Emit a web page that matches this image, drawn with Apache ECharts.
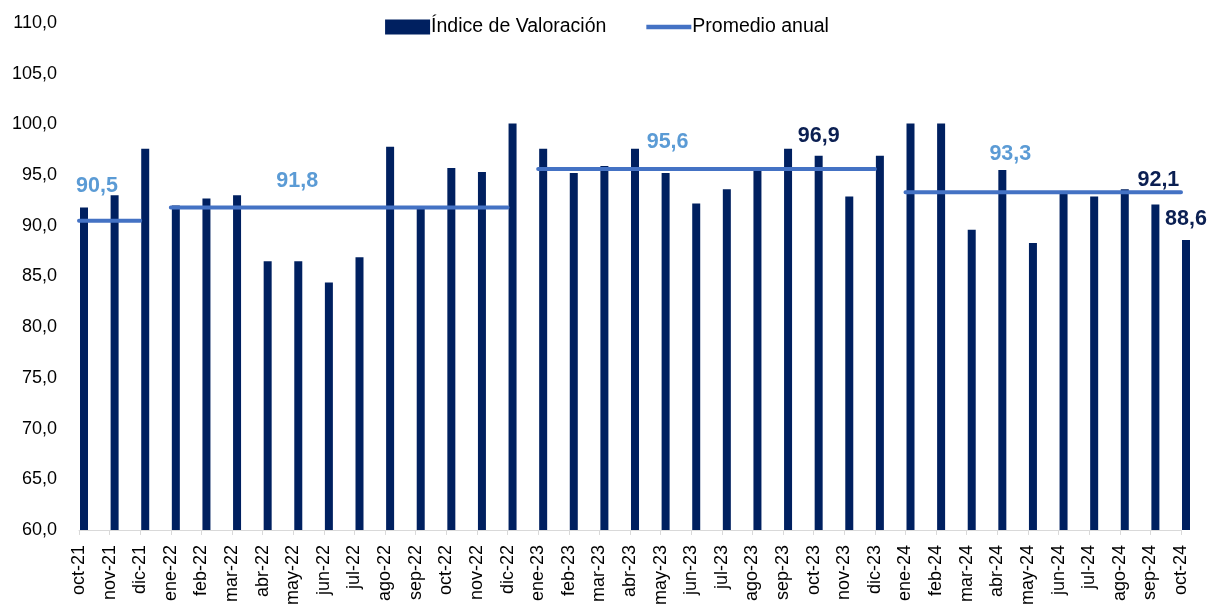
<!DOCTYPE html>
<html>
<head>
<meta charset="utf-8">
<script src="https://cdn.jsdelivr.net/npm/echarts@6/dist/echarts.min.js"></script>
<style>html,body{margin:0;padding:0;background:#fff}#c{width:1214px;height:608px}</style>
</head>
<body>
<div id="c"></div>
<script>
const categories = ['oct-21','nov-21','dic-21','ene-22','feb-22','mar-22','abr-22','may-22','jun-22','jul-22','ago-22','sep-22','oct-22','nov-22','dic-22','ene-23','feb-23','mar-23','abr-23','may-23','jun-23','jul-23','ago-23','sep-23','oct-23','nov-23','dic-23','ene-24','feb-24','mar-24','abr-24','may-24','jun-24','jul-24','ago-24','sep-24','oct-24'];
const indiceValoracion = [91.8,93.0,97.6,92.0,92.7,93.0,86.5,86.5,84.4,86.9,97.8,91.8,95.7,95.3,100.1,97.6,95.2,95.9,97.6,95.2,92.2,93.6,95.7,97.6,96.9,92.9,96.9,100.1,100.1,89.6,95.5,88.3,93.3,92.9,93.6,92.1,88.6];
const promedioAnual = [90.5, 91.8, 95.6, 93.3];
const promedioDesde = ['oct-21','ene-22','ene-23','ene-24'];
const promedioHasta = ['dic-21','dic-22','dic-23','oct-24'];
const promedioEtiquetaEn = ['oct-21','may-22','may-23','abr-24'];
const barrasEtiquetadas = ['oct-23','sep-24','oct-24'];
const yTicks = [60,65,70,75,80,85,90,95,100,105,110];

const fmt = v => Number(v).toFixed(1).replace('.', ',');
const FONT = 'Liberation Sans';
// label placement (style only)
const avgLabelStyle = [{ dx: 18, d: 24 }, { dx: 4, d: 15 }, { dx: 7, d: 16 }, { dx: 13, d: 27 }];
const barLabelStyle = [{ dx: 0, d: 9 }, { dx: 3, d: 13 }, { dx: 0, d: 10 }];

const barData = indiceValoracion.map((v, i) => {
  const k = barrasEtiquetadas.indexOf(categories[i]);
  if (k >= 0) {
    return { value: v, label: { show: true, position: 'top', distance: barLabelStyle[k].d, offset: [barLabelStyle[k].dx, 0],
      formatter: p => fmt(p.value), color: '#0B1F52', fontWeight: 'bold', fontSize: 21.5, fontFamily: FONT } };
  }
  return v;
});

const lineSeries = promedioAnual.map((val, k) => {
  const a = categories.indexOf(promedioDesde[k]);
  const b = categories.indexOf(promedioHasta[k]);
  const l = categories.indexOf(promedioEtiquetaEn[k]);
  const data = categories.map((c, i) => {
    if (i < a || i > b) return null;
    if (i === l) {
      return { value: val, label: { show: true, position: 'top', distance: avgLabelStyle[k].d, offset: [avgLabelStyle[k].dx, 0],
        formatter: p => fmt(p.value), color: '#5B9BD5', fontWeight: 'bold', fontSize: 21.5, fontFamily: FONT } };
    }
    return val;
  });
  return {
    name: 'Promedio anual', type: 'line', data: data, symbol: 'circle', symbolSize: 0.01, showSymbol: true,
    lineStyle: { color: '#4472C4', width: 4, cap: 'round' }, itemStyle: { color: '#4472C4' },
    connectNulls: false, z: 3, animation: false, silent: true
  };
});

const chart = echarts.init(document.getElementById('c'), null, { renderer: 'canvas' });
chart.setOption({
  animation: false,
  textStyle: { fontFamily: FONT },
  legend: {
    top: 12, left: 'center', itemGap: 40, itemWidth: 45, itemHeight: 15,
    textStyle: { fontSize: 19.5, color: '#000', fontFamily: FONT, padding: [0, 0, 0, -4] },
    data: [
      { name: 'Índice de Valoración', icon: 'rect' },
      { name: 'Promedio anual', icon: 'path://M0,0H42V4H0Z', itemStyle: { color: '#4472C4' } }
    ]
  },
  grid: { left: 79, right: 33, top: 23, bottom: 75, containLabel: false },
  xAxis: {
    type: 'category', data: categories, boundaryGap: false,
    axisLine: { lineStyle: { color: '#d9d9d9', width: 1 } },
    axisTick: { show: true, alignWithLabel: true, length: 5, lineStyle: { color: '#d9d9d9' } },
    axisLabel: { rotate: 90, fontSize: 18, color: '#000', margin: 15, interval: 0, fontFamily: FONT },
    splitLine: { show: false }
  },
  yAxis: {
    type: 'value', min: yTicks[0], max: yTicks[yTicks.length - 1], interval: 5,
    axisLine: { show: false }, axisTick: { show: false }, splitLine: { show: false },
    axisLabel: { formatter: v => fmt(v), fontSize: 18, color: '#000', margin: 22, fontFamily: FONT }
  },
  series: [
    { name: '_spacer', type: 'bar', data: categories.map(() => null), barWidth: 8, barGap: '25%', silent: true },
    { name: 'Índice de Valoración', type: 'bar', data: barData, barWidth: 8, barGap: '25%',
      itemStyle: { color: '#002060' }, z: 2, animation: false }
  ].concat(lineSeries)
});
</script>
</body>
</html>
